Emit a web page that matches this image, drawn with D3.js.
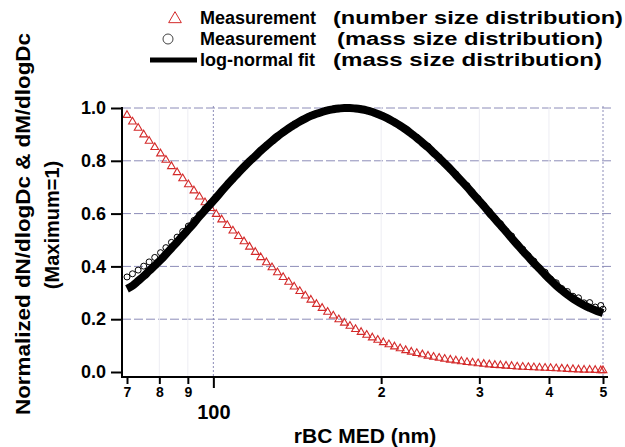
<!DOCTYPE html>
<html>
<head>
<meta charset="utf-8">
<script src="https://cdn.jsdelivr.net/npm/d3@7"></script>
<style>
  html, body { margin: 0; padding: 0; background: #ffffff; }
  svg { display: block; }
  text { font-family: "Liberation Sans", Arial, sans-serif; font-weight: bold; fill: #000; }
</style>
</head>
<body>
<svg id="chart" width="625" height="447"></svg>
<script>
// rBC mass-equivalent diameter bins (nm)
const diameters = [
  70.0, 71.6, 73.3, 75.0, 76.7, 78.5, 80.4, 82.2, 84.1, 86.1,
  88.1, 90.2, 92.3, 94.4, 96.6, 98.9, 101.2, 103.5, 105.9, 108.4,
  110.9, 113.5, 116.1, 118.9, 121.6, 124.5, 127.4, 130.3, 133.4, 136.5,
  139.6, 142.9, 146.2, 149.6, 153.1, 156.7, 160.3, 164.1, 167.9, 171.8,
  175.8, 179.9, 184.1, 188.4, 192.8, 197.2, 201.8, 206.5, 211.3, 216.3,
  221.3, 226.5, 231.7, 237.1, 242.7, 248.3, 254.1, 260.0, 266.1, 272.3,
  278.6, 285.1, 291.7, 298.5, 305.5, 312.6, 319.9, 327.3, 335.0, 342.8,
  350.8, 358.9, 367.3, 375.8, 384.6, 393.6, 402.7, 412.1, 421.7, 431.5,
  441.6, 451.9, 462.4, 473.2, 484.2, 495.5, 500.0
];

// Normalized number size distribution dN/dlogDc (measured)
const numberDist = [
  0.973, 0.948, 0.924, 0.899, 0.875, 0.851, 0.827, 0.803, 0.779, 0.756,
  0.733, 0.710, 0.687, 0.664, 0.642, 0.620, 0.598, 0.577, 0.556, 0.535,
  0.514, 0.494, 0.474, 0.454, 0.434, 0.415, 0.396, 0.377, 0.359, 0.341,
  0.323, 0.306, 0.289, 0.273, 0.257, 0.242, 0.227, 0.213, 0.199, 0.186,
  0.174, 0.162, 0.151, 0.140, 0.130, 0.121, 0.112, 0.104, 0.096, 0.089,
  0.082, 0.076, 0.071, 0.066, 0.061, 0.057, 0.053, 0.049, 0.046, 0.043,
  0.040, 0.037, 0.035, 0.032, 0.030, 0.028, 0.026, 0.025, 0.023, 0.022,
  0.020, 0.019, 0.018, 0.017, 0.016, 0.015, 0.014, 0.013, 0.012, 0.011,
  0.010, 0.009, 0.008, 0.008, 0.007, 0.006, 0.006
];

// Normalized mass size distribution dM/dlogDc (measured)
const massDist = [
  0.360, 0.372, 0.386, 0.401, 0.417, 0.434, 0.452, 0.471, 0.491, 0.511,
  0.532, 0.553, 0.574, 0.596, 0.618, 0.640, 0.663, 0.686, 0.709, 0.732,
  0.756, 0.778, 0.799, 0.819, 0.839, 0.858, 0.876, 0.892, 0.909, 0.923,
  0.937, 0.948, 0.960, 0.971, 0.978, 0.986, 0.991, 0.996, 0.998, 1.000,
  0.999, 0.998, 0.996, 0.990, 0.986, 0.976, 0.970, 0.957, 0.948, 0.931,
  0.921, 0.902, 0.889, 0.868, 0.855, 0.829, 0.814, 0.792, 0.768, 0.750,
  0.723, 0.706, 0.679, 0.657, 0.631, 0.609, 0.582, 0.562, 0.534, 0.515,
  0.486, 0.465, 0.440, 0.420, 0.395, 0.378, 0.352, 0.338, 0.316, 0.305,
  0.287, 0.281, 0.262, 0.263, 0.246, 0.252, 0.238
];

// Log-normal fit of the mass size distribution
const massFit = [
  0.315, 0.327, 0.345, 0.363, 0.383, 0.403, 0.424, 0.446, 0.469, 0.492,
  0.516, 0.540, 0.564, 0.589, 0.613, 0.637, 0.661, 0.685, 0.709, 0.732,
  0.755, 0.777, 0.798, 0.818, 0.838, 0.857, 0.875, 0.892, 0.908, 0.923,
  0.936, 0.949, 0.960, 0.970, 0.978, 0.985, 0.991, 0.995, 0.998, 1.000,
  1.000, 0.998, 0.995, 0.991, 0.985, 0.977, 0.968, 0.958, 0.946, 0.933,
  0.919, 0.903, 0.887, 0.869, 0.851, 0.831, 0.811, 0.790, 0.769, 0.746,
  0.724, 0.701, 0.677, 0.653, 0.629, 0.604, 0.580, 0.556, 0.532, 0.507,
  0.483, 0.459, 0.436, 0.413, 0.391, 0.369, 0.348, 0.328, 0.310, 0.293,
  0.278, 0.265, 0.253, 0.243, 0.234, 0.226, 0.223
];

// Axis ticks and labels
const yTicks = [0.0, 0.2, 0.4, 0.6, 0.8, 1.0];
const xMinorTicks = [70, 80, 90, 200, 300, 400, 500];
const xMinorLabels = ["7", "8", "9", "2", "3", "4", "5"];
const xMajorTicks = [100];
const xMajorLabels = ["100"];

const legendItems = [
  { label: "Measurement", note: "(number size distribution)", kind: "triangle" },
  { label: "Measurement", note: "(mass size distribution)", kind: "circle" },
  { label: "log-normal fit", note: "(mass size distribution)", kind: "line" }
];

const svg = d3.select("#chart");

const x = d3.scaleLog().domain([70, 500]).range([127, 603]);
const y = d3.scaleLinear().domain([0, 1]).range([372, 108]);

const axisLeftX = 122;
const axisBottomY = 377;
const gridRight = 611;

const redColor = "#d42a2a";
const gridColor = "#8c8cb8";

// Horizontal grid (dashed)
svg.append("g")
  .selectAll("line")
  .data(yTicks.filter(v => v > 0))
  .join("line")
  .attr("x1", axisLeftX).attr("x2", gridRight)
  .attr("y1", d => y(d)).attr("y2", d => y(d))
  .attr("stroke", gridColor).attr("stroke-width", 1)
  .attr("stroke-dasharray", "9,3");

// Faint vertical lines at minor ticks
svg.append("g")
  .selectAll("line")
  .data([80, 90, 200, 300, 400])
  .join("line")
  .attr("x1", d => x(d)).attr("x2", d => x(d))
  .attr("y1", 107).attr("y2", axisBottomY)
  .attr("stroke", "#ededf3").attr("stroke-width", 1);

// Vertical grid (dotted) at decade and the right end
svg.append("g")
  .selectAll("line")
  .data([100, 500])
  .join("line")
  .attr("x1", d => x(d)).attr("x2", d => x(d))
  .attr("y1", 106).attr("y2", axisBottomY)
  .attr("stroke", gridColor).attr("stroke-width", 1)
  .attr("stroke-dasharray", "2,2");

// Number size distribution (triangles)
const tri = d3.symbol().type(d3.symbolTriangle).size(26);
svg.append("g")
  .selectAll("path")
  .data(diameters.map((d, i) => [d, numberDist[i]]))
  .join("path")
  .attr("d", tri)
  .attr("transform", d => `translate(${x(d[0])},${y(d[1])})`)
  .attr("fill", "none")
  .attr("stroke", redColor)
  .attr("stroke-width", 1.1);

// Mass size distribution (open circles)
svg.append("g")
  .selectAll("circle")
  .data(diameters.map((d, i) => [d, massDist[i]]))
  .join("circle")
  .attr("cx", d => x(d[0]))
  .attr("cy", d => y(d[1]))
  .attr("r", 3)
  .attr("fill", "none")
  .attr("stroke", "#000")
  .attr("stroke-width", 1);

// Log-normal fit
const fitLine = d3.line()
  .x(d => x(d[0]))
  .y(d => y(d[1]))
  .curve(d3.curveMonotoneX);
svg.append("path")
  .datum(diameters.map((d, i) => [d, massFit[i]]))
  .attr("d", fitLine)
  .attr("fill", "none")
  .attr("stroke", "#000")
  .attr("stroke-width", 8)
  .attr("stroke-linejoin", "round");

// Left axis
const yAxis = d3.axisLeft(y)
  .tickValues(yTicks)
  .tickFormat(d3.format(".1f"))
  .tickSize(11)
  .tickPadding(5);
const gy = svg.append("g")
  .attr("transform", `translate(${axisLeftX},0)`)
  .call(yAxis);
gy.select(".domain").remove();
gy.selectAll(".tick line").attr("stroke", "#000").attr("stroke-width", 2);
gy.selectAll(".tick text")
  .attr("font-size", 18)
  .attr("font-family", "Liberation Sans, Arial, sans-serif")
  .attr("font-weight", "bold");
gy.append("line")
  .attr("x1", 0).attr("x2", 0)
  .attr("y1", 107).attr("y2", axisBottomY + 1)
  .attr("stroke", "#000").attr("stroke-width", 2);

// Bottom axis: minor labelled ticks
const xAxisMinor = d3.axisBottom(x)
  .tickValues(xMinorTicks)
  .tickFormat((d, i) => xMinorLabels[i])
  .tickSize(7)
  .tickPadding(3);
const gxMinor = svg.append("g")
  .attr("transform", `translate(0,${axisBottomY})`)
  .call(xAxisMinor);
gxMinor.select(".domain").remove();
gxMinor.selectAll(".tick line").attr("stroke", "#000").attr("stroke-width", 2);
gxMinor.selectAll(".tick text")
  .attr("font-size", 14)
  .attr("font-family", "Liberation Sans, Arial, sans-serif")
  .attr("font-weight", "bold");

// Bottom axis: decade tick
const xAxisMajor = d3.axisBottom(x)
  .tickValues(xMajorTicks)
  .tickFormat((d, i) => xMajorLabels[i])
  .tickSize(11)
  .tickPadding(17);
const gxMajor = svg.append("g")
  .attr("transform", `translate(0,${axisBottomY})`)
  .call(xAxisMajor);
gxMajor.select(".domain").remove();
gxMajor.selectAll(".tick line").attr("stroke", "#000").attr("stroke-width", 2);
gxMajor.selectAll(".tick text")
  .attr("font-size", 20)
  .attr("font-family", "Liberation Sans, Arial, sans-serif")
  .attr("font-weight", "bold");

svg.append("line")
  .attr("x1", axisLeftX - 1).attr("x2", 608)
  .attr("y1", axisBottomY).attr("y2", axisBottomY)
  .attr("stroke", "#000").attr("stroke-width", 2);

// Axis titles
svg.append("text")
  .attr("x", 365).attr("y", 443)
  .attr("text-anchor", "middle")
  .attr("font-size", 21)
  .text("rBC MED (nm)");

const yTitle = svg.append("g")
  .attr("transform", "translate(0,225) rotate(-90)");
yTitle.append("text")
  .attr("x", -190).attr("y", 30)
  .attr("font-size", 20)
  .attr("textLength", 382)
  .attr("lengthAdjust", "spacingAndGlyphs")
  .text("Normalized dN/dlogDc & dM/dlogDc");
yTitle.append("text")
  .attr("x", 0).attr("y", 59)
  .attr("text-anchor", "middle")
  .attr("font-size", 20)
  .text("(Maximum=1)");

// Legend
const legend = svg.append("g");
const rowY = [18, 39, 60];
const noteX = [333, 337, 333];
const noteLen = [290, 266, 269];
legendItems.forEach((item, i) => {
  const ly = rowY[i];
  if (item.kind === "triangle") {
    legend.append("path")
      .attr("d", d3.symbol().type(d3.symbolTriangle).size(70)())
      .attr("transform", `translate(175,${ly + 1})`)
      .attr("fill", "none").attr("stroke", redColor).attr("stroke-width", 1);
  } else if (item.kind === "circle") {
    legend.append("circle")
      .attr("cx", 168).attr("cy", ly)
      .attr("r", 5)
      .attr("fill", "none").attr("stroke", "#444").attr("stroke-width", 1);
  } else {
    legend.append("line")
      .attr("x1", 150).attr("x2", 197)
      .attr("y1", ly).attr("y2", ly)
      .attr("stroke", "#000").attr("stroke-width", 5);
  }
  legend.append("text")
    .attr("x", 200).attr("y", ly)
    .attr("dominant-baseline", "central")
    .attr("font-size", 18)
    .text(item.label);
  legend.append("text")
    .attr("x", noteX[i]).attr("y", ly)
    .attr("dominant-baseline", "central")
    .attr("font-size", 18)
    .attr("textLength", noteLen[i])
    .attr("lengthAdjust", "spacingAndGlyphs")
    .text(item.note);
});
</script>
</body>
</html>
